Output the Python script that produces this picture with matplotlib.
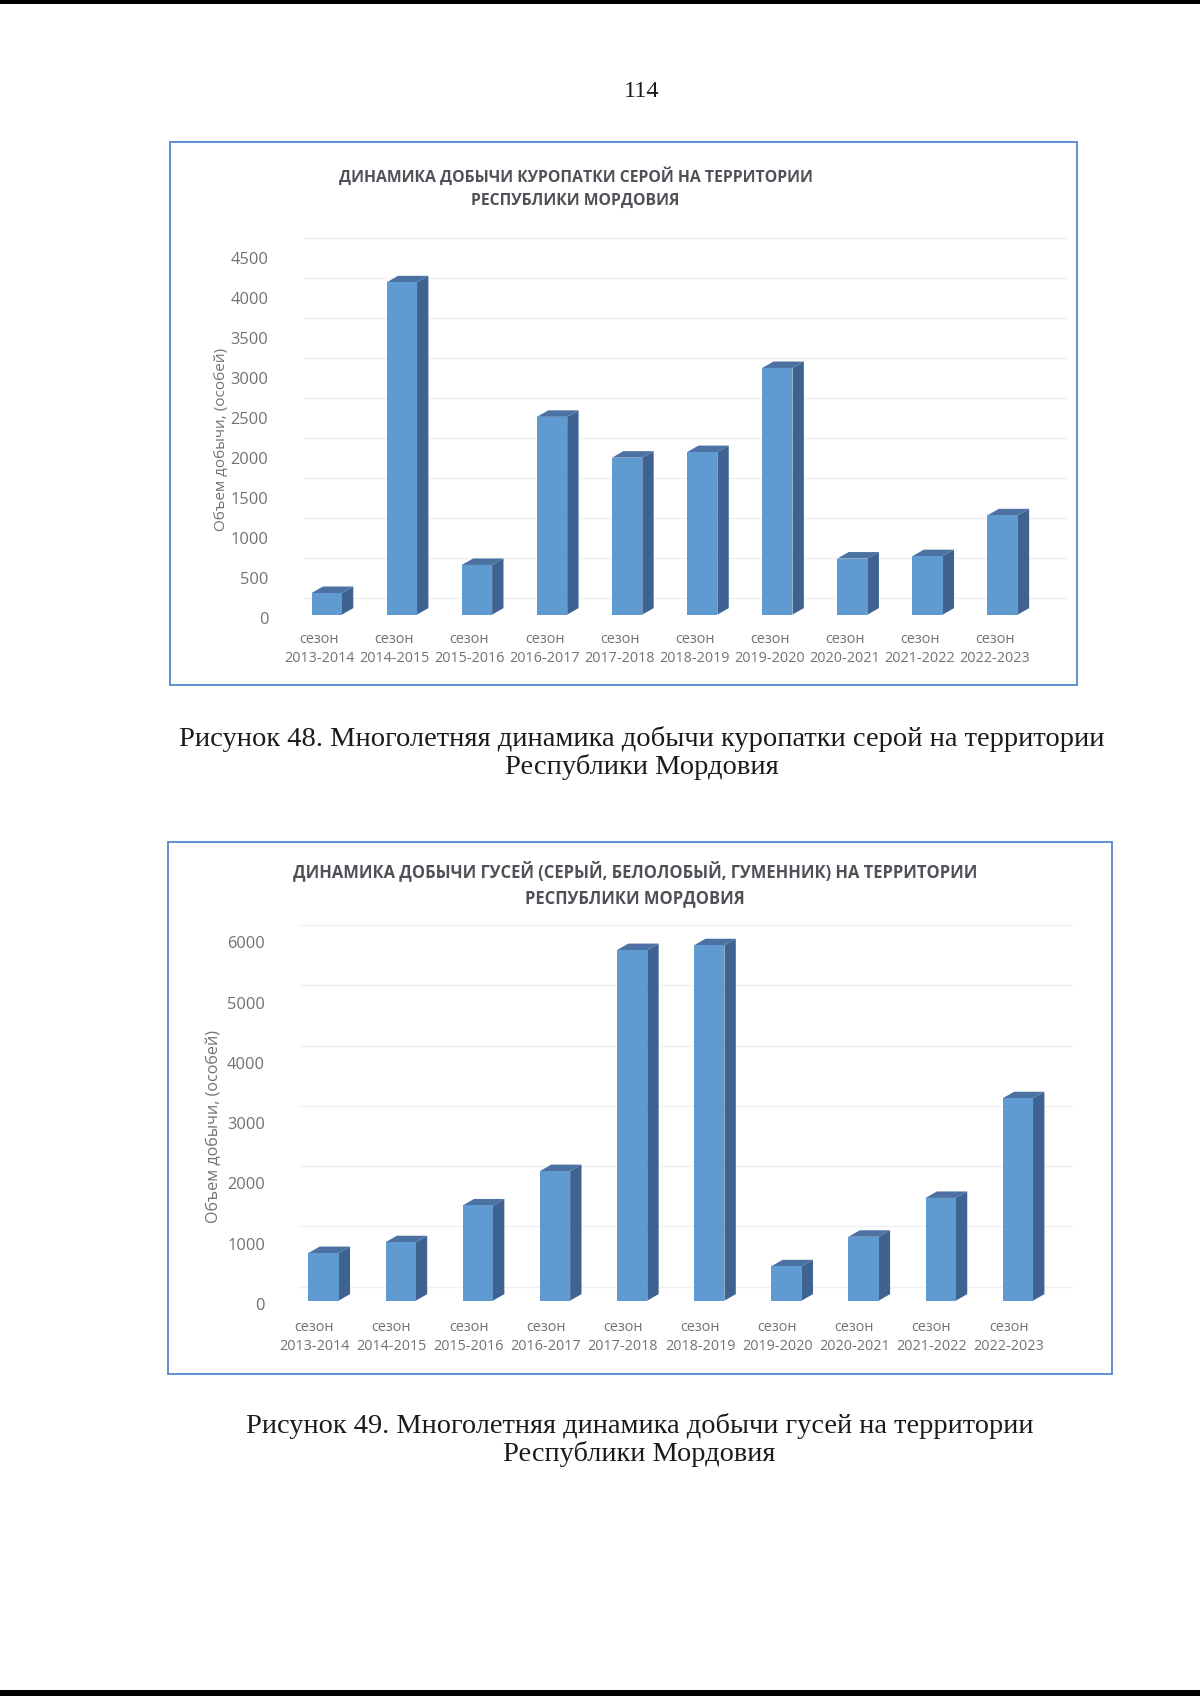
#!/usr/bin/env python
import numpy as np
import matplotlib
matplotlib.use("Agg")
import matplotlib.pyplot as plt
from matplotlib.patches import Rectangle

plt.rcParams['font.family'] = ['Open Sans', 'DejaVu Sans']

seasons = ['2013-2014', '2014-2015', '2015-2016', '2016-2017', '2017-2018',
           '2018-2019', '2019-2020', '2020-2021', '2021-2022', '2022-2023']

# куропатка серая
partridge = [270, 4150, 620, 2470, 1960, 2030, 3080, 700, 730, 1240]
partridge_ticks = [0, 500, 1000, 1500, 2000, 2500, 3000, 3500, 4000, 4500]

# гуси
geese = [790, 970, 1580, 2150, 5820, 5900, 570, 1060, 1705, 3360]
geese_ticks = [0, 1000, 2000, 3000, 4000, 5000, 6000]

FRONT = '#5f9bd1'
SIDE = '#3f6390'
TOP = '#4c72a3'
GRID = '#f0f0f0'
LABEL = '#727272'
FRAME = '#5f8fd2'

W, H = 1200, 1696
K = 1200 / 1109  # координаты снимал с уменьшенной картинки

fig = plt.figure(figsize=(W / 100, H / 100), dpi=100, facecolor='white')


def fx(x):
    return x * K / W


def fy(y):
    return 1 - y * K / H


def chart(values, ticks, frame, x0, step, base, top_px, grid_top, grid_x,
          title, title_xy, title_size, ylab_xy, ylab_size, label_shift,
          tick_right, xpad):
    # рамка
    l, t, r, b = frame
    fig.add_artist(Rectangle((fx(l), fy(b)), fx(r) - fx(l), fy(t) - fy(b),
                             transform=fig.transFigure, fill=False,
                             edgecolor=FRAME, linewidth=1.4))

    vmax = ticks[-1]
    per_unit = (base - top_px) / vmax
    lo = -500 / 4500 * vmax
    hi = 1.2 * vmax
    left = x0 - step / 2
    right = x0 + 9.5 * step
    ax = fig.add_axes([fx(left), fy(base - lo * per_unit),
                       fx(right) - fx(left), (hi - lo) * per_unit * K / H])
    ax.set_xlim(-0.5, 9.5)
    ax.set_ylim(lo, hi)
    ax.patch.set_alpha(0)
    for s in ax.spines.values():
        s.set_visible(False)

    # глубина столбика
    dx = 10.5 / step
    dy = 6 / per_unit
    w = 28 / step
    grid_dy = (base - grid_top) / per_unit - vmax
    tick_dy = 3 / per_unit

    xs = np.arange(len(values))
    ax.hlines(np.array(ticks) + grid_dy, (grid_x[0] - left) / step - 0.5,
              (grid_x[1] - left) / step - 0.5, color=GRID, lw=1, zorder=1,
              clip_on=False)
    ax.bar(xs, values, width=w, color=FRONT, zorder=3)
    for x, v in zip(xs, values):
        xr = x + w / 2
        xl = x - w / 2
        ax.fill([xr, xr + dx, xr + dx, xr], [0, dy, v + dy, v], color=SIDE,
                lw=0, zorder=2)
        ax.fill([xl, xl + dx, xr + dx, xr], [v, v + dy, v + dy, v], color=TOP,
                lw=0, zorder=2)

    ax.set_yticks(np.array(ticks) - tick_dy, [str(v) for v in ticks])
    ax.set_xticks(xs + label_shift, ['сезон\n' + s for s in seasons])
    ax.tick_params(axis='both', length=0, labelcolor=LABEL)
    ax.tick_params(axis='y', labelsize=11.8,
                   pad=(left - tick_right) * K * 0.72)
    ax.tick_params(axis='x', labelsize=10.4, pad=xpad)
    for lab in ax.get_xticklabels():
        lab.set_linespacing(1.35)

    fig.text(fx(title_xy[0]), fy(title_xy[1]), title, ha='center', va='center',
             fontsize=title_size, fontweight='bold', color='#505058',
             linespacing=1.55)
    fig.text(fx(ylab_xy[0]), fy(ylab_xy[1]), 'Объем добычи, (особей)',
             rotation=90, ha='center', va='center', fontsize=ylab_size,
             color=LABEL)
    return ax


chart(partridge, partridge_ticks, (157, 131, 995, 633), 302, 69.4, 568, 235,
      220, (280, 985),
      'ДИНАМИКА ДОБЫЧИ КУРОПАТКИ СЕРОЙ НА ТЕРРИТОРИИ\nРЕСПУБЛИКИ МОРДОВИЯ',
      (532, 174), 11.3, (205, 406), 11, -0.1, 248, -16)

chart(geese, geese_ticks, (155, 778, 1028, 1270), 299, 71.3, 1202, 868,
      855, (275, 992),
      'ДИНАМИКА ДОБЫЧИ ГУСЕЙ (СЕРЫЙ, БЕЛОЛОБЫЙ, ГУМЕННИК) НА ТЕРРИТОРИИ\nРЕСПУБЛИКИ МОРДОВИЯ',
      (587, 817), 11.9, (198, 1041), 11.6, -0.12, 245, -15)

# текст страницы
serif = ['Liberation Serif', 'DejaVu Serif']
fig.text(fx(593), fy(85), '114', ha='center', va='center', fontsize=17.5,
         family=serif, color='#1a1a1a')
fig.text(fx(593), fy(696),
         'Рисунок 48. Многолетняя динамика добычи куропатки серой на территории\nРеспублики Мордовия',
         ha='center', va='center', fontsize=20.5, family=serif, color='#1a1a1a',
         linespacing=1.12)
fig.text(fx(591), fy(1331),
         'Рисунок 49. Многолетняя динамика добычи гусей на территории\nРеспублики Мордовия',
         ha='center', va='center', fontsize=20.4, family=serif, color='#1a1a1a',
         linespacing=1.12)

# чёрные полосы скана сверху и снизу
fig.add_artist(Rectangle((0, 1 - 3.5 / H), 1, 3.5 / H, transform=fig.transFigure,
                         color='black', lw=0))
fig.add_artist(Rectangle((0, 0), 1, 6 / H, transform=fig.transFigure,
                         color='black', lw=0))

fig.savefig('out.png', dpi=100)
